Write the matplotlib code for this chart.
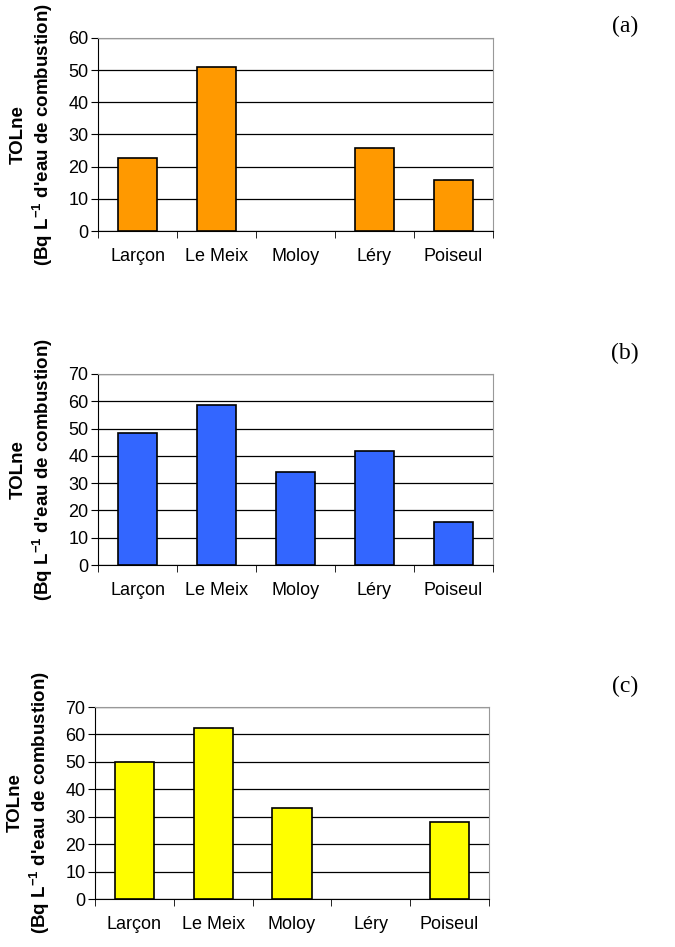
import matplotlib
matplotlib.use("Agg")
import matplotlib.pyplot as plt

plt.rcParams['font.family'] = ['Liberation Sans', 'DejaVu Sans']
plt.rcParams['mathtext.fontset'] = 'custom'
plt.rcParams['mathtext.rm'] = 'Liberation Sans'
plt.rcParams['mathtext.bf'] = 'Liberation Sans:bold'

sites = ['Larçon', 'Le Meix', 'Moloy', 'Léry', 'Poiseul']
vals_a = [22.6, 50.9, 0, 25.8, 15.8]
vals_b = [48.2, 58.6, 34.0, 41.9, 15.9]
vals_c = [49.9, 62.2, 33.3, 0, 28.1]
panel_tags = ['(a)', '(b)', '(c)']
colors = ['#FF9900', '#3366FF', '#FFFF00']
ymaxes = [60, 70, 70]

W, H = 675, 947
fig = plt.figure(figsize=(W / 100, H / 100), dpi=100)

# axes boxes in pixels: left, top, right, bottom
boxes = [(98, 38, 493, 231), (98, 374, 493, 565), (95, 707, 489, 899)]
tag_y = [26, 353, 686]

for vals, col, ymax, box, tag, ty in zip([vals_a, vals_b, vals_c], colors, ymaxes, boxes, panel_tags, tag_y):
    l, t, r, b = box
    ax = fig.add_axes([l / W, 1 - b / H, (r - l) / W, (b - t) / H])
    x = range(len(sites))
    bars = ax.bar(x, vals, width=0.5, color=col, edgecolor='black', linewidth=1.2, zorder=3)
    for bar, v in zip(bars, vals):
        if v == 0:
            bar.set_visible(False)
    ax.set_xlim(-0.5, len(sites) - 0.5)
    ax.set_ylim(0, ymax)
    ax.set_yticks(range(0, ymax + 1, 10))
    ax.yaxis.grid(True, color='black', linewidth=0.9, zorder=0)
    ax.set_xticks(list(x))
    ax.set_xticklabels(sites, fontsize=13)
    ax.set_xticks([i + 0.5 for i in range(-1, len(sites))], minor=True)
    ax.tick_params(axis='x', which='major', length=0, pad=12)
    ax.tick_params(axis='x', which='minor', length=5, direction='out', color='black')
    ax.tick_params(axis='y', length=5, direction='out', labelsize=13, pad=2)
    for s in ['top', 'right']:
        ax.spines[s].set_color('#999999')
    for s in ['left', 'bottom']:
        ax.spines[s].set_color('black')
    ax.set_ylabel('TOLne\n(Bq L$^{\\mathbf{-1}}$ d\'eau de combustion)', fontsize=13.5,
                  fontweight='bold', linespacing=1.15)
    ax.yaxis.set_label_coords(-0.11, 0.5)
    fig.text(625 / W, 1 - ty / H, tag, fontsize=17, family='Liberation Serif',
             ha='center', va='center')

fig.savefig('out.png', dpi=100)
